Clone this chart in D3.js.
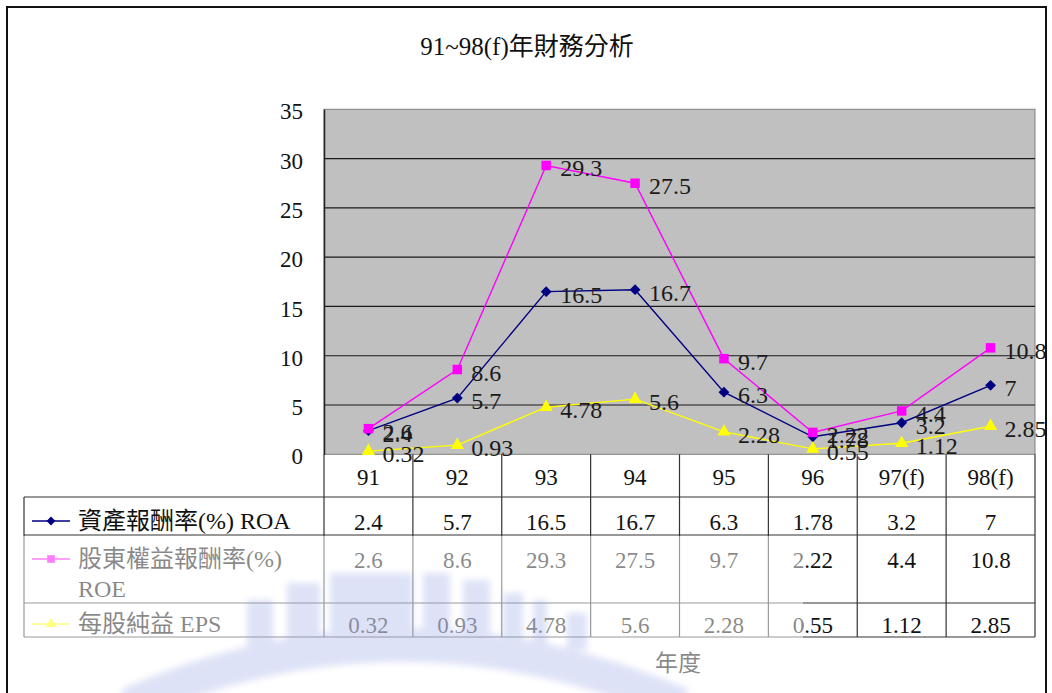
<!DOCTYPE html>
<html>
<head>
<meta charset="utf-8">
<script src="https://cdn.jsdelivr.net/npm/d3@7"></script>
<style>
  html, body { margin: 0; padding: 0; background: #fff; }
  svg { display: block; }
  .num { font-family: "Liberation Serif", "Times New Roman", serif; }
  .cjk { font-family: "Liberation Serif", "Noto Sans CJK TC", serif; }
</style>
</head>
<body>
<svg id="chart" width="1052" height="693"></svg>
<script>
// Financial ratios by fiscal year (ROC calendar), 97 and 98 are forecasts
const categories = ["91", "92", "93", "94", "95", "96", "97(f)", "98(f)"];
const roa = [2.4, 5.7, 16.5, 16.7, 6.3, 1.78, 3.2, 7];
const roe = [2.6, 8.6, 29.3, 27.5, 9.7, 2.22, 4.4, 10.8];
const eps = [0.32, 0.93, 4.78, 5.6, 2.28, 0.55, 1.12, 2.85];
const yTicks = [0, 5, 10, 15, 20, 25, 30, 35];
const seriesNames = [["資產報酬率(%) ROA"], ["股東權益報酬率(%)", "ROE"], ["每股純益 EPS"]];
const seriesColors = ["#000080", "#FF00FF", "#FFFF00"];
const seriesShapes = [d3.symbolDiamond2, d3.symbolSquare, d3.symbolTriangle];
const titleText = "91~98(f)年財務分析";
const xTitle = "年度";

const series = [roa, roe, eps].map((vals, i) => ({
  names: seriesNames[i], color: seriesColors[i], shape: seriesShapes[i],
  values: vals.map((v, j) => ({ cat: categories[j], v }))
}));

const svg = d3.select("#chart");
const plot = { left: 324, right: 1035, top: 109.3, bottom: 454.3 };

const x = d3.scaleBand().domain(categories).range([plot.left, plot.right]);
const y = d3.scaleLinear().domain([0, 35]).range([plot.bottom, plot.top]);
const cx = c => x(c) + x.bandwidth() / 2;

// outer frame
svg.append("path")
  .attr("d", "M7,693 V7 H1046 V693")
  .attr("fill", "none").attr("stroke", "#111").attr("stroke-width", 2);

// title
svg.append("text").attr("class", "cjk")
  .attr("x", 527).attr("y", 46)
  .attr("text-anchor", "middle").attr("dominant-baseline", "central")
  .attr("font-size", 25).attr("fill", "#111")
  .text(titleText);

// plot background
svg.append("rect")
  .attr("x", plot.left).attr("y", plot.top)
  .attr("width", plot.right - plot.left).attr("height", plot.bottom - plot.top)
  .attr("fill", "#C0C0C0").attr("stroke", "#808080").attr("stroke-width", 1);

// horizontal gridlines
svg.append("g").selectAll("line").data(yTicks.filter(t => t > 0 && t < 35)).join("line")
  .attr("x1", plot.left).attr("x2", plot.right)
  .attr("y1", d => y(d)).attr("y2", d => y(d))
  .attr("stroke", "#1a1a1a").attr("stroke-width", 1.2);

// y axis
const yAxis = svg.append("g")
  .attr("transform", `translate(${plot.left},0)`)
  .call(d3.axisLeft(y).tickValues(yTicks).tickSize(0).tickPadding(21));
yAxis.select(".domain").attr("stroke", "#222").attr("stroke-width", 1.5);
yAxis.selectAll("text")
  .attr("class", "num").attr("font-size", 23).attr("fill", "#111")
  .attr("dy", "0.42em");

// series lines
const line = d3.line().x(d => cx(d.cat)).y(d => y(d.v));
const gS = svg.append("g");
series.forEach(s => {
  gS.append("path").datum(s.values)
    .attr("d", line).attr("fill", "none")
    .attr("stroke", s.color).attr("stroke-width", 1.4);
});
// markers
series.forEach(s => {
  gS.append("g").selectAll("path").data(s.values).join("path")
    .attr("transform", d => `translate(${cx(d.cat)},${y(d.v)})`)
    .attr("d", d3.symbol().type(s.shape).size(s.shape === d3.symbolSquare ? 90 : 75))
    .attr("fill", s.color);
});
// value labels
series.forEach(s => {
  gS.append("g").selectAll("text").data(s.values).join("text")
    .attr("class", "num")
    .attr("x", d => cx(d.cat) + 14).attr("y", d => y(d.v) + 3)
    .attr("dominant-baseline", "central")
    .attr("font-size", 24).attr("fill", "#1a1a1a")
    .text(d => String(d.v));
});

// data table below the plot
const table = { left: 24, headBottom: 497, rows: [[497, 535], [535, 603], [603, 637]] };
const tg = svg.append("g");
const lineColor = "#333";

// header row: category names
tg.selectAll("text.cat").data(categories).join("text")
  .attr("class", "num cat")
  .attr("x", d => cx(d)).attr("y", 477)
  .attr("text-anchor", "middle").attr("dominant-baseline", "central")
  .attr("font-size", 23).attr("fill", "#111")
  .text(d => d);

// grid of the table
const colEdges = categories.map(c => x(c)).concat([plot.right]);
tg.selectAll("line.v").data(colEdges).join("line")
  .attr("x1", d => d).attr("x2", d => d)
  .attr("y1", plot.bottom).attr("y2", table.rows[2][1])
  .attr("stroke", lineColor).attr("stroke-width", 1.2);
tg.append("line")
  .attr("x1", table.left).attr("x2", table.left)
  .attr("y1", table.headBottom).attr("y2", table.rows[2][1])
  .attr("stroke", lineColor).attr("stroke-width", 1.2);
const hLines = [table.headBottom, table.rows[0][1], table.rows[1][1], table.rows[2][1]];
tg.selectAll("line.h").data(hLines).join("line")
  .attr("x1", table.left).attr("x2", plot.right)
  .attr("y1", d => d).attr("y2", d => d)
  .attr("stroke", lineColor).attr("stroke-width", 1.2);

// row labels with legend keys, and values
const rowTextY = [521, 559, 624];
series.forEach((s, i) => {
  const ry = rowTextY[i];
  tg.append("line")
    .attr("x1", 32).attr("x2", 70).attr("y1", ry).attr("y2", ry)
    .attr("stroke", s.color).attr("stroke-width", 1.4);
  tg.append("path")
    .attr("transform", `translate(51,${ry})`)
    .attr("d", d3.symbol().type(s.shape).size(s.shape === d3.symbolSquare ? 60 : 50))
    .attr("fill", s.color);
  s.names.forEach((n, k) => {
    tg.append("text").attr("class", "cjk")
      .attr("x", 78).attr("y", ry + k * 30)
      .attr("dominant-baseline", "central")
      .attr("font-size", 24).attr("fill", "#111")
      .text(n);
  });
  tg.selectAll(null).data(s.values).join("text")
    .attr("class", "num")
    .attr("x", d => cx(d.cat)).attr("y", ry + 1)
    .attr("text-anchor", "middle").attr("dominant-baseline", "central")
    .attr("font-size", 23).attr("fill", "#111")
    .text(d => String(d.v));
});

// axis title
svg.append("text").attr("class", "cjk")
  .attr("x", 678).attr("y", 663)
  .attr("text-anchor", "middle").attr("dominant-baseline", "central")
  .attr("font-size", 23).attr("fill", "#111")
  .text(xTitle);

// faint emblem watermark laid over the lower-left of the page
const defs = svg.append("defs");
defs.append("filter").attr("id", "soft")
  .attr("x", "-10%").attr("y", "-10%").attr("width", "120%").attr("height", "120%")
  .append("feGaussianBlur").attr("stdDeviation", 3);
const wm = svg.append("g");
wm.append("rect")
  .attr("x", 9).attr("y", 536).attr("width", 794).attr("height", 157)
  .attr("fill", "#fff").attr("opacity", 0.5);
const emblem = wm.append("g").attr("opacity", 0.27).attr("filter", "url(#soft)");
const fingers = [[247, 600, 26], [287, 583, 33], [330, 573, 70], [390, 573, 23], [423, 573, 27],
                 [463, 580, 27], [503, 593, 20], [533, 600, 14], [567, 613, 20]];
emblem.selectAll("rect").data(fingers).join("rect")
  .attr("x", d => d[0]).attr("y", d => d[1]).attr("width", d => d[2])
  .attr("height", d => 650 - d[1])
  .attr("fill", "#8696e0");
emblem.append("path")
  .attr("d", "M128,705 Q400,585 682,705")
  .attr("fill", "none").attr("stroke", "#8696e0").attr("stroke-width", 34);
</script>
</body>
</html>
